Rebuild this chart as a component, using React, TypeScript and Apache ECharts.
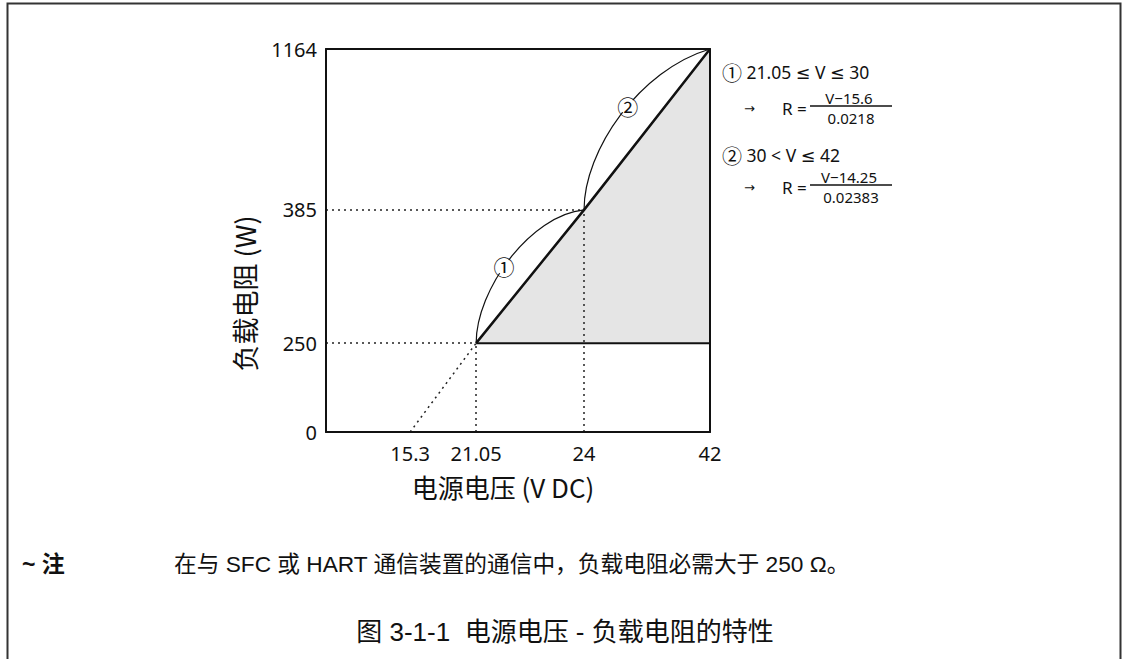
import React, { useEffect, useRef } from 'react';
import * as echarts from 'echarts';

// ---------------- data ----------------
const xTickLabels = [15.3, 21.05, 24, 42]; // 电源电压 (V DC)
const yTickLabels = [0, 250, 385, 1164]; // 负载电阻
const boundaryV = [21.05, 24, 42]; // operating limit line
const boundaryR = [250, 385, 1164];
const regionV = [21.05, 24, 42, 42]; // operating region (shaded)
const regionR = [250, 385, 1164, 250];
const minLoadV = [21.05, 42]; // 250 Ω minimum load
const minLoadR = [250, 250];
// dotted guide lines (null voltage = on the y axis)
const guideStartV = [null, null, 21.05, 24, 15.3];
const guideStartR = [250, 385, 0, 0, 0];
const guideEndV = [21.05, 24, 21.05, 24, 21.05];
const guideEndR = [250, 385, 250, 385, 250];
// range arcs
const rangeMarks = ['①', '②'];
const rangeStartV = [21.05, 24];
const rangeStartR = [250, 385];
const rangeEndV = [24, 42];
const rangeEndR = [385, 1164];
// formulas
const formulaRanges = ['21.05 ≤ V ≤ 30', '30 < V ≤ 42'];
const formulaNumerators = ['V−15.6', 'V−14.25'];
const formulaDenominators = ['0.0218', '0.02383'];
const xAxisTitle = '电源电压 (V DC)';
const yAxisTitle = '负载电阻 (W)';
const noteMark = '~ 注';
const noteText = '在与 SFC 或 HART 通信装置的通信中，负载电阻必需大于 250 Ω。';
const captionText = '图 3-1-1  电源电压 - 负载电阻的特性';

// ---------------- schematic (not-to-scale) axes ----------------
// break points: value -> axis position (0..100)
const xBreakValues = [15.3, 21.05, 24, 42];
const xBreakPos = [21.9, 39.1, 67.2, 100];
const yBreakValues = [0, 250, 385, 1164];
const yBreakPos = [0, 23.2, 58, 100];

function piecewise(vals: number[], pos: number[]) {
  return (v: number | null) => {
    if (v == null) return 0;
    let i = 0;
    if (v >= vals[vals.length - 1]) i = vals.length - 2;
    else if (v > vals[0]) {
      while (v > vals[i + 1]) i++;
    }
    const t = (v - vals[i]) / (vals[i + 1] - vals[i]);
    return pos[i] + t * (pos[i + 1] - pos[i]);
  };
}
const sx = piecewise(xBreakValues, xBreakPos);
const sy = piecewise(yBreakValues, yBreakPos);

// arc shape (bend of control points) and label position per arc
const arcBend = [
  { a: 0.4, b: 0.5, c: 0.04, t: 0.45 },
  { a: 0.37, b: 0.56, c: 0.13, t: 0.55 },
];

const LATIN = "'Noto Sans', 'DejaVu Sans', 'Noto Sans CJK SC', sans-serif";
const CJK = "'Noto Sans CJK SC', 'Noto Sans', sans-serif";
const ARIAL = "'Liberation Sans', 'Noto Sans CJK SC', sans-serif";
const INK = '#111';

function labelFor(ticks: number[], map: (v: number) => number) {
  const pos = ticks.map((t) => map(t));
  return (val: number) => {
    const i = pos.findIndex((p) => Math.abs(p - val) < 1e-6);
    return i >= 0 ? String(ticks[i]) : '';
  };
}

function bez(p0: number[], p1: number[], p2: number[], p3: number[], t: number) {
  const u = 1 - t;
  const k0 = u * u * u, k1 = 3 * u * u * t, k2 = 3 * u * t * t, k3 = t * t * t;
  return [
    k0 * p0[0] + k1 * p1[0] + k2 * p2[0] + k3 * p3[0],
    k0 * p0[1] + k1 * p1[1] + k2 * p2[1] + k3 * p3[1],
  ];
}

export default function App() {
  const ref = useRef<HTMLDivElement>(null);

  useEffect(() => {
    if (!ref.current) return;
    const chart = echarts.init(ref.current, null, { renderer: 'svg' });

    const hiddenAxis = {
      min: 0,
      max: 100,
      type: 'value' as const,
      axisLabel: { show: false },
      axisTick: { show: false },
      splitLine: { show: false },
      axisLine: { show: true, onZero: false, lineStyle: { color: INK, width: 2 } },
      z: 5,
    };

    const formulaGraphics: any[] = [];
    const headY = [72, 155];
    const fracY = [108, 187];
    formulaRanges.forEach((txt, i) => {
      const fy = fracY[i];
      formulaGraphics.push(
        {
          type: 'text', x: 722, y: headY[i],
          style: {
            text: '{c|' + rangeMarks[i] + '} ' + txt,
            fontSize: 17.5, fontFamily: LATIN, fill: INK, align: 'left', verticalAlign: 'middle',
            rich: { c: { fontSize: 20, fontFamily: CJK, fill: INK } },
          },
        },
        {
          type: 'text', x: 744, y: fy,
          style: { text: '→', fontSize: 13, fontFamily: LATIN, fill: INK, align: 'left', verticalAlign: 'middle' },
        },
        {
          type: 'text', x: 782, y: fy,
          style: { text: 'R =', fontSize: 17, fontFamily: LATIN, fill: INK, align: 'left', verticalAlign: 'middle' },
        },
        {
          type: 'text', x: 849, y: fy - 10,
          style: { text: formulaNumerators[i], fontSize: 15, lineHeight: 15, fontFamily: LATIN, fill: INK, align: 'center', verticalAlign: 'middle' },
        },
        {
          type: 'line', shape: { x1: 810, y1: fy - 2, x2: 892, y2: fy - 2 },
          style: { stroke: INK, lineWidth: 1.3 },
        },
        {
          type: 'text', x: 851, y: fy + 9.5,
          style: { text: formulaDenominators[i], fontSize: 15, lineHeight: 15, fontFamily: LATIN, fill: INK, align: 'center', verticalAlign: 'middle' },
        }
      );
    });

    const option: any = {
      animation: false,
      backgroundColor: '#fff',
      grid: { left: 326, top: 49, width: 384, height: 383, containLabel: false },
      xAxis: [
        {
          ...hiddenAxis,
          position: 'bottom',
          name: xAxisTitle,
          nameLocation: 'middle',
          nameGap: 41,
          nameTextStyle: { fontSize: 26, fontFamily: CJK, color: INK, padding: [0, 30, 0, 0] },
          axisLabel: {
            show: true,
            customValues: xTickLabels.map((v) => sx(v)),
            formatter: labelFor(xTickLabels, sx),
            fontSize: 20,
            fontFamily: LATIN,
            color: INK,
            margin: 11,
          },
        },
        { ...hiddenAxis, position: 'top' },
      ],
      yAxis: [
        {
          ...hiddenAxis,
          position: 'left',
          name: yAxisTitle,
          nameLocation: 'middle',
          nameGap: 68,
          nameTextStyle: { fontSize: 27, fontFamily: CJK, color: INK, padding: [0, 106, 0, 0] },
          axisLabel: {
            show: true,
            customValues: yTickLabels.map((v) => sy(v)),
            formatter: labelFor(yTickLabels, sy),
            fontSize: 20,
            fontFamily: LATIN,
            color: INK,
            margin: 9,
          },
        },
        { ...hiddenAxis, position: 'right' },
      ],
      series: [
        {
          type: 'custom',
          name: 'region',
          z: 1,
          silent: true,
          data: [0],
          renderItem: (_p: any, api: any) => ({
            type: 'polygon',
            shape: { points: regionV.map((v, i) => api.coord([sx(v), sy(regionR[i])])) },
            style: { fill: '#e5e5e5', stroke: null },
          }),
        },
        {
          type: 'lines',
          name: 'guides',
          coordinateSystem: 'cartesian2d',
          z: 2,
          silent: true,
          lineStyle: { color: '#222', width: 1.5, type: [2, 4], opacity: 1 },
          data: guideStartV.map((v, i) => ({
            coords: [
              [sx(v), sy(guideStartR[i])],
              [sx(guideEndV[i]), sy(guideEndR[i])],
            ],
          })),
        },
        {
          type: 'line',
          name: 'boundary',
          z: 3,
          symbol: 'none',
          silent: true,
          lineStyle: { color: INK, width: 2.5 },
          data: boundaryV.map((v, i) => [sx(v), sy(boundaryR[i])]),
        },
        {
          type: 'line',
          name: 'minLoad',
          z: 3,
          symbol: 'none',
          silent: true,
          lineStyle: { color: INK, width: 2 },
          data: minLoadV.map((v, i) => [sx(v), sy(minLoadR[i])]),
        },
        {
          type: 'custom',
          name: 'ranges',
          z: 4,
          silent: true,
          data: rangeStartV.map((v, i) => [sx(v), sy(rangeStartR[i]), sx(rangeEndV[i]), sy(rangeEndR[i])]),
          renderItem: (params: any, api: any) => {
            const i = params.dataIndex;
            const p0 = api.coord([api.value(0), api.value(1)]);
            const p3 = api.coord([api.value(2), api.value(3)]);
            const dx = p3[0] - p0[0];
            const dy = p3[1] - p0[1];
            const bd = arcBend[i];
            const p1 = [p0[0], p0[1] + bd.a * dy];
            const p2 = [p3[0] - bd.b * dx, p3[1] - bd.c * dy];
            const m = bez(p0, p1, p2, p3, bd.t);
            return {
              type: 'group',
              children: [
                {
                  type: 'bezierCurve',
                  shape: { x1: p0[0], y1: p0[1], cpx1: p1[0], cpy1: p1[1], cpx2: p2[0], cpy2: p2[1], x2: p3[0], y2: p3[1] },
                  style: { stroke: INK, lineWidth: 1.2, fill: null },
                },
                {
                  type: 'circle',
                  shape: { cx: m[0], cy: m[1], r: 8 },
                  style: { fill: '#fff', stroke: null },
                },
                {
                  type: 'text',
                  x: m[0],
                  y: m[1],
                  style: { text: rangeMarks[i], fontSize: 21, fontFamily: CJK, fill: INK, align: 'center', verticalAlign: 'middle' },
                },
              ],
            };
          },
        },
      ],
      graphic: [
        {
          type: 'polyline',
          shape: { points: [[7.5, 659], [7.5, 3.5], [1120.5, 3.5], [1120.5, 659]] },
          style: { stroke: '#333', lineWidth: 2, fill: null },
        },
        ...formulaGraphics,
        {
          type: 'text', x: 22, y: 564,
          style: { text: noteMark, fontSize: 23, fontWeight: 'bold', fontFamily: ARIAL, fill: INK, align: 'left', verticalAlign: 'middle' },
        },
        {
          type: 'text', x: 174, y: 564,
          style: { text: noteText, fontSize: 22.7, fontFamily: ARIAL, fill: INK, align: 'left', verticalAlign: 'middle' },
        },
        {
          type: 'text', x: 565, y: 632,
          style: { text: captionText, fontSize: 26, fontFamily: ARIAL, fill: INK, align: 'center', verticalAlign: 'middle' },
        },
      ],
    };

    chart.setOption(option);
    return () => chart.dispose();
  }, []);

  return (
    <div
      ref={ref}
      style={{ position: 'fixed', left: 0, top: 0, width: 1127, height: 659, background: '#fff' }}
    />
  );
}
